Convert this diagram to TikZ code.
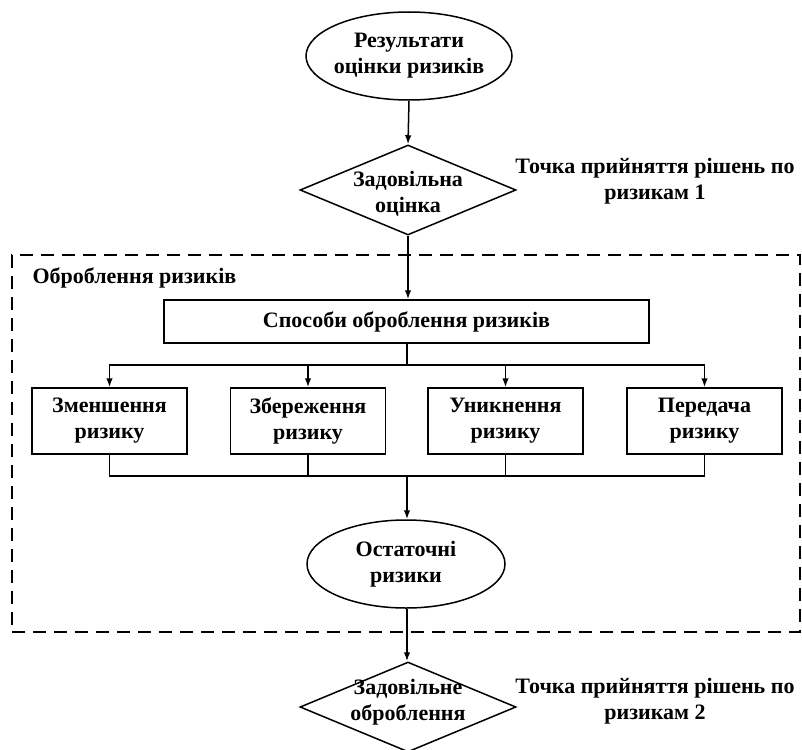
\documentclass[tikz,border=0pt]{standalone}
\usepackage{fontspec}
\setmainfont{Liberation Serif}
\usetikzlibrary{shapes.geometric,arrows.meta}
\begin{document}
\begin{tikzpicture}[x=1pt,y=-1pt,
  every node/.style={font=\bfseries\fontsize{22}{26}\selectfont, align=center},
  ln/.style={line width=1.5pt},
  arr/.style={ln,-{Latex[length=9pt,width=6.5pt]}},
  ell/.style={ellipse,draw,ln,inner sep=-12pt,minimum width=#1,minimum height=88pt},
  diam/.style={diamond,draw,ln,inner sep=-30pt,aspect=2.4,minimum width=216pt,minimum height=90pt},
  boxx/.style={rectangle,draw,ln,inner sep=0pt,minimum width=155pt,minimum height=66pt},
  grp/.style={rectangle,draw,line width=1.2pt,dash pattern=on 13pt off 8pt,inner sep=0pt}]
\useasboundingbox (0,0) rectangle (802,749);
% group frame
\node[grp,minimum width=788pt,minimum height=377pt] (frame) at (406,443.5) {};
\node[anchor=west] (grplabel) at (29,278) {Оброблення ризиків};
% main nodes
\node[ell=206pt] (e1) at (409,56) {Результати\\оцінки ризиків};
\node[diam] (d1) at (408,190) {};
\node (d1t) at (408,194) {Задовільна\\оцінка};
\node (t1) at (655,181) {Точка прийняття рішень по\\ризикам 1};
\node[rectangle,draw,ln,minimum width=485pt,minimum height=43pt,inner sep=0pt] (s) at (406.5,321.5) {Способи оброблення ризиків};
\node[boxx] (b1) at (109.5,421) {Зменшення\\ризику};
\node[boxx] (b2) at (308,421) {Збереження\\ризику};
\node[boxx] (b3) at (505.5,421) {Уникнення\\ризику};
\node[boxx] (b4) at (704.5,421) {Передача\\ризику};
\node[ell=198pt] (e2) at (406,564) {Остаточні\\ризики};
\node[diam] (d2) at (408,707) {};
\node (d2t) at (408,702) {Задовільне\\оброблення};
\node (t2) at (655,701) {Точка прийняття рішень по\\ризикам 2};
% junctions
\coordinate (j1) at (407,365);
\coordinate (j2) at (407,476);
% connectors
\draw[arr] (e1.south) -- (d1.north);
\draw[arr] (d1.south) -- (d1.south |- s.north);
\draw[ln] (s.south -| j1) -- (j1);
\draw[arr] (j1) -| (b1.north);
\draw[arr] (j1) -| (b2.north);
\draw[arr] (j1) -| (b3.north);
\draw[arr] (j1) -| (b4.north);
\draw[ln] (b1.south) |- (j2);
\draw[ln] (b2.south) |- (j2);
\draw[ln] (b3.south) |- (j2);
\draw[ln] (b4.south) |- (j2);
\draw[arr] (j2) -- (j2 |- e2.north);
\draw[arr] (e2.south -| j2) -- (j2 |- d2.north);
\end{tikzpicture}
\end{document}
